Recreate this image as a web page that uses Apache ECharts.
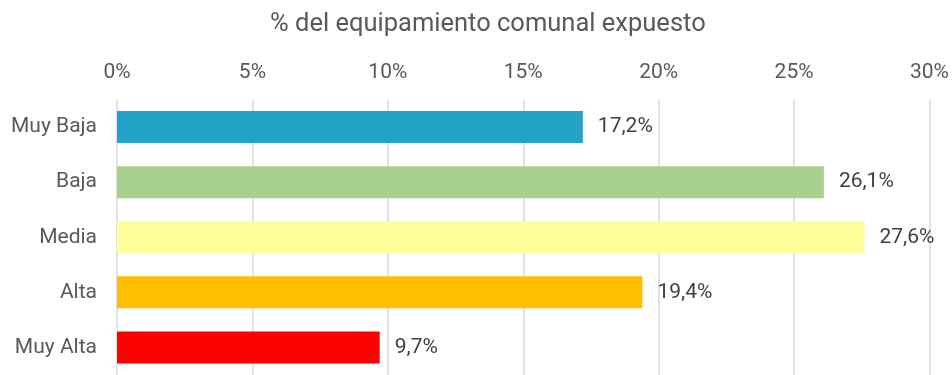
<!DOCTYPE html>
<html>
<head>
<meta charset="utf-8">
<script src="https://cdn.jsdelivr.net/npm/echarts@6/dist/echarts.min.js"></script>
<style>
  html, body { margin: 0; padding: 0; background: #fff; }
  #chart { width: 952px; height: 375px; }
</style>
</head>
<body>
<div id="chart"></div>
<script>
// Share of community facilities exposed, by exposure level
const categories = ['Muy Baja', 'Baja', 'Media', 'Alta', 'Muy Alta'];
const values = [17.2, 26.1, 27.6, 19.4, 9.7];
const barColors = ['#23a3c8', '#a9d18e', '#ffff99', '#ffc000', '#ff0000'];
const xTicks = [0, 5, 10, 15, 20, 25, 30];

const fontFamily = 'Roboto, "Noto Sans", sans-serif';
const fmtPct = v => v.toFixed(1).replace('.', ',') + '%';

const chart = echarts.init(document.getElementById('chart'), null, { renderer: 'canvas' });
chart.setOption({
  animation: false,
  title: {
    text: '% del equipamiento comunal expuesto',
    left: 265,
    top: 7,
    textStyle: { fontFamily, fontSize: 25.5, fontWeight: 'normal', color: '#595959' }
  },
  grid: { left: 117, right: 19, top: 99.5, height: 281, containLabel: false },
  xAxis: {
    type: 'value',
    position: 'top',
    min: xTicks[0],
    max: xTicks[xTicks.length - 1],
    interval: xTicks[1] - xTicks[0],
    axisLine: { show: false },
    axisTick: { show: false },
    axisLabel: {
      formatter: '{value}%',
      margin: 16,
      fontFamily, fontSize: 21, color: '#595959'
    },
    splitLine: { show: true, lineStyle: { color: '#d9d9d9', width: 1.5 } }
  },
  yAxis: {
    type: 'category',
    data: categories,
    inverse: true,
    axisLine: { show: false },
    axisTick: { show: false },
    axisLabel: { margin: 20, fontFamily, fontSize: 21, color: '#595959' }
  },
  series: [{
    type: 'bar',
    barWidth: 32,
    data: values.map((v, i) => ({ value: v, itemStyle: { color: barColors[i] } })),
    label: {
      show: true,
      position: 'right',
      distance: 15,
      formatter: p => fmtPct(p.value),
      fontFamily, fontSize: 21, color: '#404040'
    }
  }]
});
</script>
</body>
</html>
